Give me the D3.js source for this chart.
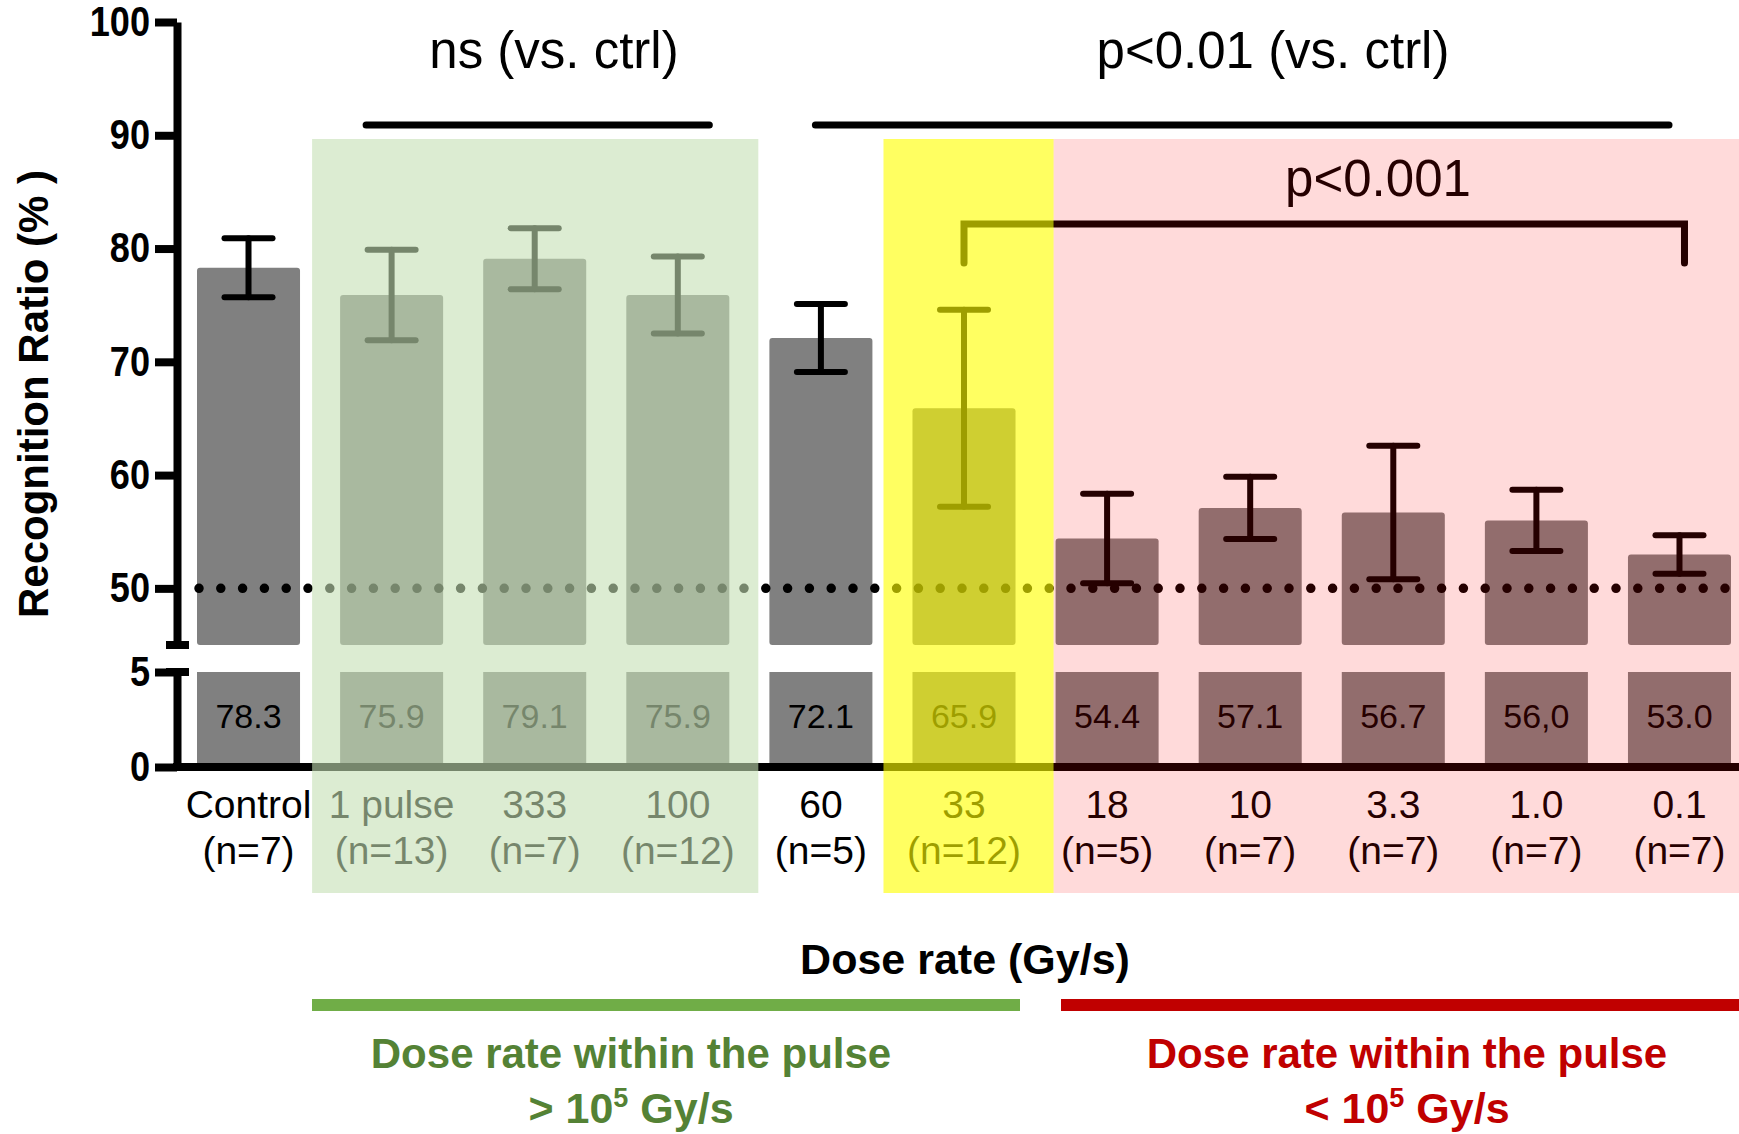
<!DOCTYPE html>
<html>
<head>
<meta charset="utf-8">
<script src="https://cdn.jsdelivr.net/npm/d3@7"></script>
<style>
  body { margin: 0; background: #fff; }
  text { font-family: "Liberation Sans", Arial, sans-serif; }
</style>
</head>
<body>
<svg id="chart"></svg>
<script>
// data
const categories = ["Control", "1 pulse", "333", "100", "60", "33", "18", "10", "3.3", "1.0", "0.1"];
const nLabels = ["(n=7)", "(n=13)", "(n=7)", "(n=12)", "(n=5)", "(n=12)", "(n=5)", "(n=7)", "(n=7)", "(n=7)", "(n=7)"];
const means = [78.3, 75.9, 79.1, 75.9, 72.1, 65.9, 54.4, 57.1, 56.7, 56.0, 53.0];
const meanLabels = ["78.3", "75.9", "79.1", "75.9", "72.1", "65.9", "54.4", "57.1", "56.7", "56,0", "53.0"];
const sem = [2.6, 4.0, 2.7, 3.4, 3.0, 8.7, 3.95, 2.75, 5.9, 2.7, 1.7];
const upperTicks = [50, 60, 70, 80, 90, 100];
const lowerTicks = [0, 5];
const chanceLevel = 50;

const W = 1739, H = 1134;
const svg = d3.select("#chart").attr("width", W).attr("height", H);
svg.append("rect").attr("width", W).attr("height", H).attr("fill", "#fff");

const axisX = 177;

// scales
const x = d3.scaleBand().domain(categories).range([197, 1731]).paddingInner(0.28).paddingOuter(0);
const yU = d3.scaleLinear().domain([45, 100]).range([645, 22]);
const yL = d3.scaleLinear().domain([0, 5]).range([767, 672]);
const bw = x.bandwidth();
const cx = c => x(c) + bw / 2;

const rows = categories.map((c, i) => ({ c, n: nLabels[i], m: means[i], lab: meanLabels[i], e: sem[i] }));

// bars, upper segment
svg.append("g").selectAll("rect").data(rows).join("rect")
  .attr("x", d => x(d.c)).attr("width", bw)
  .attr("y", d => yU(d.m)).attr("height", d => yU(45) - yU(d.m))
  .attr("rx", 3).attr("fill", "#808080");

// bars, lower segment
svg.append("g").selectAll("rect").data(rows).join("rect")
  .attr("x", d => x(d.c)).attr("width", bw)
  .attr("y", yL(5)).attr("height", yL(0) - yL(5))
  .attr("fill", "#808080");

// values written in lower bars
svg.append("g").selectAll("text").data(rows).join("text")
  .attr("x", d => cx(d.c)).attr("y", 728)
  .attr("text-anchor", "middle").attr("font-size", 34).attr("fill", "#000")
  .text(d => d.lab);

// error bars
const eb = svg.append("g").attr("stroke", "#000").attr("stroke-width", 6).attr("stroke-linecap", "round");
rows.forEach(d => {
  const top = yU(d.m + d.e), bot = yU(d.m - d.e), xc = cx(d.c);
  eb.append("line").attr("x1", xc).attr("x2", xc).attr("y1", top).attr("y2", bot);
  eb.append("line").attr("x1", xc - 24).attr("x2", xc + 24).attr("y1", top).attr("y2", top);
  eb.append("line").attr("x1", xc - 24).attr("x2", xc + 24).attr("y1", bot).attr("y2", bot);
});

// chance level dotted line
svg.append("line")
  .attr("x1", 199).attr("x2", W + 10)
  .attr("y1", yU(chanceLevel)).attr("y2", yU(chanceLevel))
  .attr("stroke", "#000").attr("stroke-width", 9.5)
  .attr("stroke-linecap", "round").attr("stroke-dasharray", "0 21.8");

// y axes (broken)
const styleAxis = g => {
  g.select(".domain").attr("stroke", "#000").attr("stroke-width", 8);
  g.selectAll(".tick line").attr("stroke", "#000").attr("stroke-width", 8);
  g.selectAll(".tick text")
    .attr("font-weight", "bold").attr("font-size", 42).attr("fill", "#000")
    .each(function () {
      // condensed look of the original tick font
      const len = this.getComputedTextLength();
      d3.select(this).attr("textLength", len * 0.86).attr("lengthAdjust", "spacingAndGlyphs");
    });
};
svg.append("g").attr("transform", `translate(${axisX},0)`)
  .call(d3.axisLeft(yU).tickValues(upperTicks).tickFormat(d3.format("d")).tickSize(22).tickSizeOuter(0).tickPadding(5))
  .call(styleAxis);
svg.append("g").attr("transform", `translate(${axisX},0)`)
  .call(d3.axisLeft(yL).tickValues(lowerTicks).tickFormat(d3.format("d")).tickSize(22).tickSizeOuter(0).tickPadding(5))
  .call(styleAxis);

// break stubs
svg.append("g").attr("stroke", "#000").attr("stroke-width", 8)
  .selectAll("line").data([yU(45), yL(5)]).join("line")
  .attr("x1", axisX - 11).attr("x2", axisX + 12).attr("y1", d => d).attr("y2", d => d);

// x axis baseline
svg.append("line").attr("x1", axisX - 4).attr("x2", W).attr("y1", yL(0)).attr("y2", yL(0))
  .attr("stroke", "#000").attr("stroke-width", 8);

// category labels
const cl = svg.append("g").selectAll("text").data(rows).join("text")
  .attr("text-anchor", "middle").attr("font-size", 39).attr("fill", "#000");
cl.append("tspan").attr("x", d => cx(d.c)).attr("y", 818).text(d => d.c);
cl.append("tspan").attr("x", d => cx(d.c)).attr("y", 864).text(d => d.n);

// y title
svg.append("text")
  .attr("transform", "translate(48,394) rotate(-90)")
  .attr("text-anchor", "middle").attr("font-size", 42).attr("font-weight", "bold")
  .text("Recognition Ratio (% )");

// x title
svg.append("text").attr("x", 965).attr("y", 974)
  .attr("text-anchor", "middle").attr("font-size", 43).attr("font-weight", "bold")
  .text("Dose rate (Gy/s)");

// significance annotations
const sig = svg.append("g").attr("stroke", "#000").attr("stroke-width", 7).attr("stroke-linecap", "round").attr("fill", "none");
sig.append("line").attr("x1", x("1 pulse") + 26).attr("x2", x("100") + bw - 20).attr("y1", 125).attr("y2", 125);
sig.append("line").attr("x1", x("60") + 46).attr("x2", x("0.1") + bw - 62).attr("y1", 125).attr("y2", 125);
sig.append("path")
  .attr("stroke-linejoin", "miter")
  .attr("d", `M${cx("33")},263 V224 H${cx("0.1") + 5} V263`);

svg.append("text").attr("x", 554).attr("y", 68).attr("text-anchor", "middle").attr("font-size", 51).text("ns (vs. ctrl)");
svg.append("text").attr("x", 1273).attr("y", 68).attr("text-anchor", "middle").attr("font-size", 51).text("p<0.01 (vs. ctrl)");
svg.append("text").attr("x", 1378).attr("y", 196).attr("text-anchor", "middle").attr("font-size", 51).text("p<0.001");

// translucent region overlays
const ovTop = 139, ovBot = 893;
svg.append("rect").attr("x", x("1 pulse") - 28).attr("width", (x("100") + bw + 29) - (x("1 pulse") - 28))
  .attr("y", ovTop).attr("height", ovBot - ovTop).attr("fill", "rgb(197,224,180)").attr("fill-opacity", 0.6);
svg.append("rect").attr("x", x("33") - 29).attr("width", (x("18") - 2) - (x("33") - 29))
  .attr("y", ovTop).attr("height", ovBot - ovTop).attr("fill", "#ffff00").attr("fill-opacity", 0.62);
svg.append("rect").attr("x", x("18") - 2).attr("width", W - (x("18") - 2))
  .attr("y", ovTop).attr("height", ovBot - ovTop).attr("fill", "#ff0000").attr("fill-opacity", 0.145);

// bottom groups
const groups = [
  { from: 312, to: 1020, color: "#70AD47", text: "#548235", sign: ">" },
  { from: 1061, to: W, color: "#C00000", text: "#C00000", sign: "<" }
];
groups.forEach(g => {
  svg.append("rect").attr("x", g.from).attr("width", g.to - g.from).attr("y", 999).attr("height", 12).attr("fill", g.color);
  const mid = g.sign === ">" ? 631 : 1407;
  svg.append("text").attr("x", mid).attr("y", 1068).attr("text-anchor", "middle")
    .attr("font-family", "Lato, 'Open Sans', sans-serif").attr("font-weight", "bold")
    .attr("font-size", 42).attr("fill", g.text).text("Dose rate within the pulse");
  const t = svg.append("text").attr("x", mid).attr("y", 1123).attr("text-anchor", "middle")
    .attr("font-family", "Lato, 'Open Sans', sans-serif").attr("font-weight", "bold")
    .attr("font-size", 43).attr("fill", g.text);
  t.append("tspan").text(g.sign + " 10");
  t.append("tspan").attr("dy", -16).attr("font-size", 27).text("5");
  t.append("tspan").attr("dy", 16).text(" Gy/s");
});
</script>
</body>
</html>
